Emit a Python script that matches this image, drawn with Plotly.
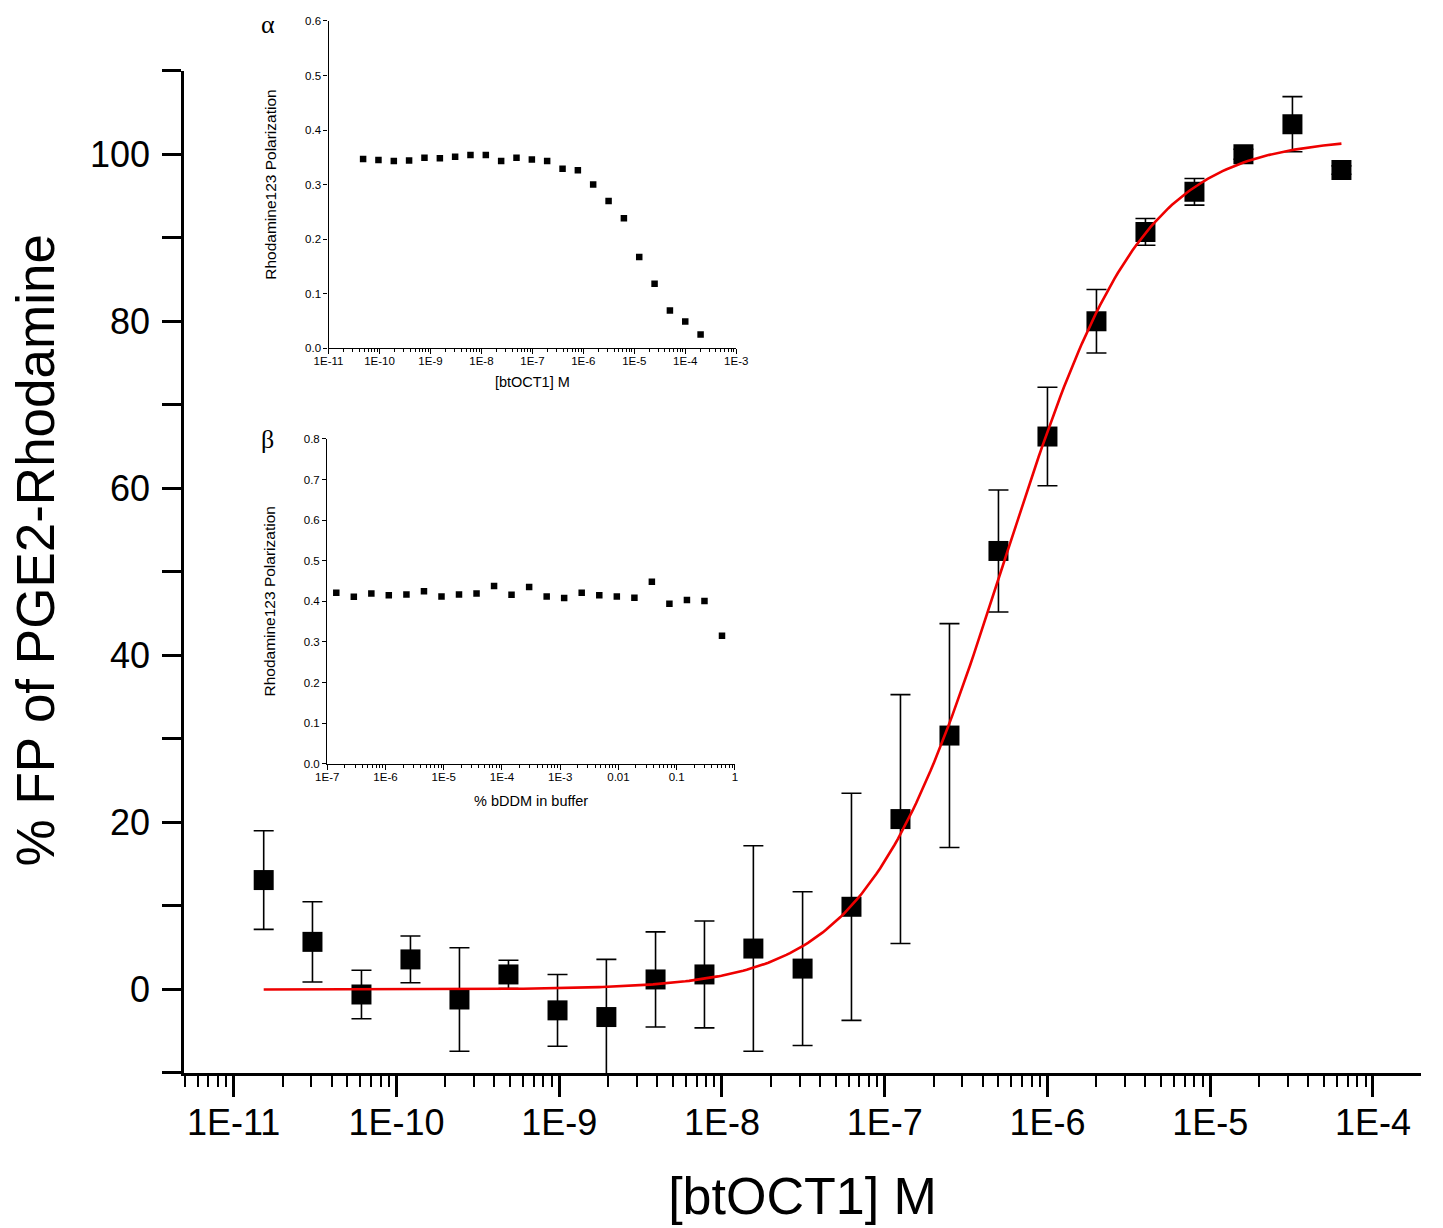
import numpy as np
import plotly.graph_objects as go

# ---------------- main data ----------------
conc_main = [1.53e-11, 3.05e-11, 6.10e-11, 1.22e-10, 2.44e-10, 4.88e-10, 9.77e-10,
             1.95e-9, 3.91e-9, 7.81e-9, 1.56e-8, 3.13e-8, 6.25e-8, 1.25e-7, 2.5e-7,
             5.0e-7, 1.0e-6, 2.0e-6, 4.0e-6, 8.0e-6, 1.6e-5, 3.2e-5, 6.4e-5]
fp_main = [13.1, 5.7, -0.6, 3.6, -1.2, 1.8, -2.5, -3.3, 1.2, 1.8, 4.9, 2.5, 9.9,
           20.4, 30.4, 52.5, 66.2, 80.0, 90.7, 95.5, 100.0, 103.6, 98.1]
fp_err = [5.9, 4.8, 2.9, 2.8, 6.2, 1.7, 4.3, 6.9, 5.7, 6.4, 12.3, 9.2, 13.6,
          14.9, 13.4, 7.3, 5.9, 3.8, 1.6, 1.6, 0.6, 3.3, 0.5]

# fitted dose-response parameters (red curve)
FIT_BOTTOM = 0.0
FIT_TOP = 102.0
FIT_LOGEC50 = -6.27
FIT_HILL = 1.03

main_xtick_vals = [1e-11, 1e-10, 1e-9, 1e-8, 1e-7, 1e-6, 1e-5, 1e-4]
main_xtick_text = ["1E-11", "1E-10", "1E-9", "1E-8", "1E-7", "1E-6", "1E-5", "1E-4"]
main_ytick_vals = [-10, 0, 10, 20, 30, 40, 50, 60, 70, 80, 90, 100, 110]
main_ytick_text = ["", "0", "", "20", "", "40", "", "60", "", "80", "", "100", ""]

# ---------------- inset alpha ----------------
conc_alpha = [4.77e-11, 9.54e-11, 1.91e-10, 3.81e-10, 7.63e-10, 1.53e-9, 3.05e-9,
              6.10e-9, 1.22e-8, 2.44e-8, 4.88e-8, 9.77e-8, 1.95e-7, 3.91e-7, 7.81e-7,
              1.56e-6, 3.13e-6, 6.25e-6, 1.25e-5, 2.5e-5, 5.0e-5, 1.0e-4, 2.0e-4]
pol_alpha = [0.347, 0.345, 0.343, 0.344, 0.349, 0.348, 0.351, 0.354, 0.354, 0.343,
             0.349, 0.346, 0.343, 0.329, 0.326, 0.300, 0.270, 0.238, 0.167, 0.118,
             0.069, 0.049, 0.025]
alpha_xtick_vals = [1e-11, 1e-10, 1e-9, 1e-8, 1e-7, 1e-6, 1e-5, 1e-4, 1e-3]
alpha_xtick_text = ["1E-11", "1E-10", "1E-9", "1E-8", "1E-7", "1E-6", "1E-5", "1E-4", "1E-3"]
alpha_ytick_vals = [0.0, 0.1, 0.2, 0.3, 0.4, 0.5, 0.6]
alpha_ytick_text = ["0.0", "0.1", "0.2", "0.3", "0.4", "0.5", "0.6"]

# ---------------- inset beta ----------------
conc_beta = [1.43e-7, 2.86e-7, 5.72e-7, 1.14e-6, 2.29e-6, 4.58e-6, 9.16e-6, 1.83e-5,
             3.66e-5, 7.32e-5, 1.46e-4, 2.93e-4, 5.86e-4, 1.17e-3, 2.34e-3, 4.69e-3,
             9.38e-3, 1.88e-2, 3.75e-2, 7.5e-2, 0.15, 0.3, 0.6]
pol_beta = [0.421, 0.411, 0.419, 0.415, 0.417, 0.425, 0.412, 0.417, 0.419, 0.438,
            0.416, 0.435, 0.412, 0.408, 0.421, 0.415, 0.412, 0.409, 0.448, 0.394,
            0.403, 0.401, 0.315]
beta_xtick_vals = [1e-7, 1e-6, 1e-5, 1e-4, 1e-3, 1e-2, 1e-1, 1]
beta_xtick_text = ["1E-7", "1E-6", "1E-5", "1E-4", "1E-3", "0.01", "0.1", "1"]
beta_ytick_vals = [0.0, 0.1, 0.2, 0.3, 0.4, 0.5, 0.6, 0.7, 0.8]
beta_ytick_text = ["0.0", "0.1", "0.2", "0.3", "0.4", "0.5", "0.6", "0.7", "0.8"]

FONT = "Liberation Sans, Arial, sans-serif"

# fitted curve
xfit = np.logspace(np.log10(conc_main[0]), np.log10(conc_main[-1]), 300)
yfit = FIT_BOTTOM + (FIT_TOP - FIT_BOTTOM) / (1 + 10 ** ((FIT_LOGEC50 - np.log10(xfit)) * FIT_HILL))

fig = go.Figure()

fig.add_trace(go.Scatter(
    x=conc_main, y=fp_main, mode="markers",
    marker=dict(symbol="square", size=20, color="black"),
    error_y=dict(type="data", array=fp_err, visible=True, color="black",
                 thickness=1.6, width=10),
    showlegend=False, xaxis="x", yaxis="y"))
fig.add_trace(go.Scatter(
    x=xfit, y=yfit, mode="lines", line=dict(color="#ee0000", width=2.6),
    showlegend=False, xaxis="x", yaxis="y"))

fig.add_trace(go.Scatter(
    x=conc_alpha, y=pol_alpha, mode="markers",
    marker=dict(symbol="square", size=6.5, color="black"),
    showlegend=False, xaxis="x2", yaxis="y2"))
fig.add_trace(go.Scatter(
    x=conc_beta, y=pol_beta, mode="markers",
    marker=dict(symbol="square", size=6.5, color="black"),
    showlegend=False, xaxis="x3", yaxis="y3"))

W, H = 1443, 1228
ML, MR, MT, MB = 184, 18, 10, 155
PW, PH = W - ML - MR, H - MT - MB


def xd(a, b):
    return [(a - ML) / PW, (b - ML) / PW]


def yd(top, bottom):
    return [(H - MB - bottom) / PH, (H - MB - top) / PH]


def px(x):
    return (x - ML) / PW


def py(y):
    return (H - MB - y) / PH


main_axis = dict(showline=True, linecolor="black", linewidth=2.5, showgrid=False,
                 zeroline=False, ticks="outside", tickcolor="black", tickwidth=2.5,
                 tickfont=dict(family=FONT, size=36, color="black"))
inset_axis = dict(showline=True, linecolor="black", linewidth=1.3, showgrid=False,
                  zeroline=False, ticks="outside", tickcolor="black", tickwidth=1.2,
                  ticklen=4, tickfont=dict(family=FONT, size=11.5, color="black"))

fig.update_layout(
    width=W, height=H,
    margin=dict(l=ML, r=MR, t=MT, b=MB),
    paper_bgcolor="white", plot_bgcolor="rgba(0,0,0,0)",
    font=dict(family=FONT, color="black"),
    xaxis=dict(main_axis, type="log", range=[-11.305, -3.705], domain=[0, 1],
               anchor="y", tickvals=main_xtick_vals, ticktext=main_xtick_text,
               ticklen=21, ticklabelstandoff=-5,
               minor=dict(ticks="outside", ticklen=11, tickwidth=2, tickcolor="black",
                          dtick="D1", showgrid=False),
               title=dict(text="[btOCT1] M", font=dict(family=FONT, size=52, color="black"),
                          standoff=36)),
    yaxis=dict(main_axis, range=[-10, 110], domain=yd(65, 1073), anchor="x",
               tickvals=main_ytick_vals, ticktext=main_ytick_text,
               ticklen=19, ticklabelstandoff=5),
    xaxis2=dict(inset_axis, type="log", range=[-11, -3], domain=xd(329, 738), anchor="y2",
                tickvals=alpha_xtick_vals, ticktext=alpha_xtick_text, ticklen=5,
                ticklabelstandoff=-3,
                minor=dict(ticks="outside", ticklen=3, tickwidth=1, tickcolor="black",
                           dtick="D1", showgrid=False),
                title=dict(text="[btOCT1] M", font=dict(family=FONT, size=14.5, color="black"),
                           standoff=10)),
    yaxis2=dict(inset_axis, range=[0, 0.6], domain=yd(15, 344), anchor="x2",
                tickvals=alpha_ytick_vals, ticktext=alpha_ytick_text,
                title=dict(text="Rhodamine123 Polarization",
                           font=dict(family=FONT, size=15.5, color="black"), standoff=24)),
    xaxis3=dict(inset_axis, type="log", range=[-7, 0], domain=xd(327.7, 736.7), anchor="y3",
                tickvals=beta_xtick_vals, ticktext=beta_xtick_text, ticklen=5,
                ticklabelstandoff=-3,
                minor=dict(ticks="outside", ticklen=3, tickwidth=1, tickcolor="black",
                           dtick="D1", showgrid=False),
                title=dict(text="% bDDM in buffer", font=dict(family=FONT, size=14.5, color="black"),
                           standoff=14)),
    yaxis3=dict(inset_axis, range=[0, 0.8], domain=yd(435.3, 762), anchor="x3",
                tickvals=beta_ytick_vals, ticktext=beta_ytick_text,
                title=dict(text="Rhodamine123 Polarization",
                           font=dict(family=FONT, size=15.5, color="black"), standoff=24)),
    annotations=[
        dict(text="% FP of PGE2-Rhodamine", textangle=-90, x=px(35), y=py(547),
             xref="paper", yref="paper", xanchor="center", yanchor="middle",
             showarrow=False, font=dict(family=FONT, size=53, color="black")),
        dict(text="α", x=px(268), y=py(19), xref="paper", yref="paper",
             xanchor="center", yanchor="middle", showarrow=False,
             font=dict(family="Liberation Serif, serif", size=26, color="black")),
        dict(text="β", x=px(268), y=py(436), xref="paper", yref="paper",
             xanchor="center", yanchor="middle", showarrow=False,
             font=dict(family="Liberation Serif, serif", size=26, color="black")),
    ],
)

fig.write_html(
    "out.html",
    config={"displayModeBar": False},
    post_script=("document.documentElement.style.margin='0';"
                 "document.documentElement.style.overflow='hidden';"
                 "document.body.style.margin='0';document.body.style.padding='0';"
                 "document.body.style.overflow='hidden';"),
)
